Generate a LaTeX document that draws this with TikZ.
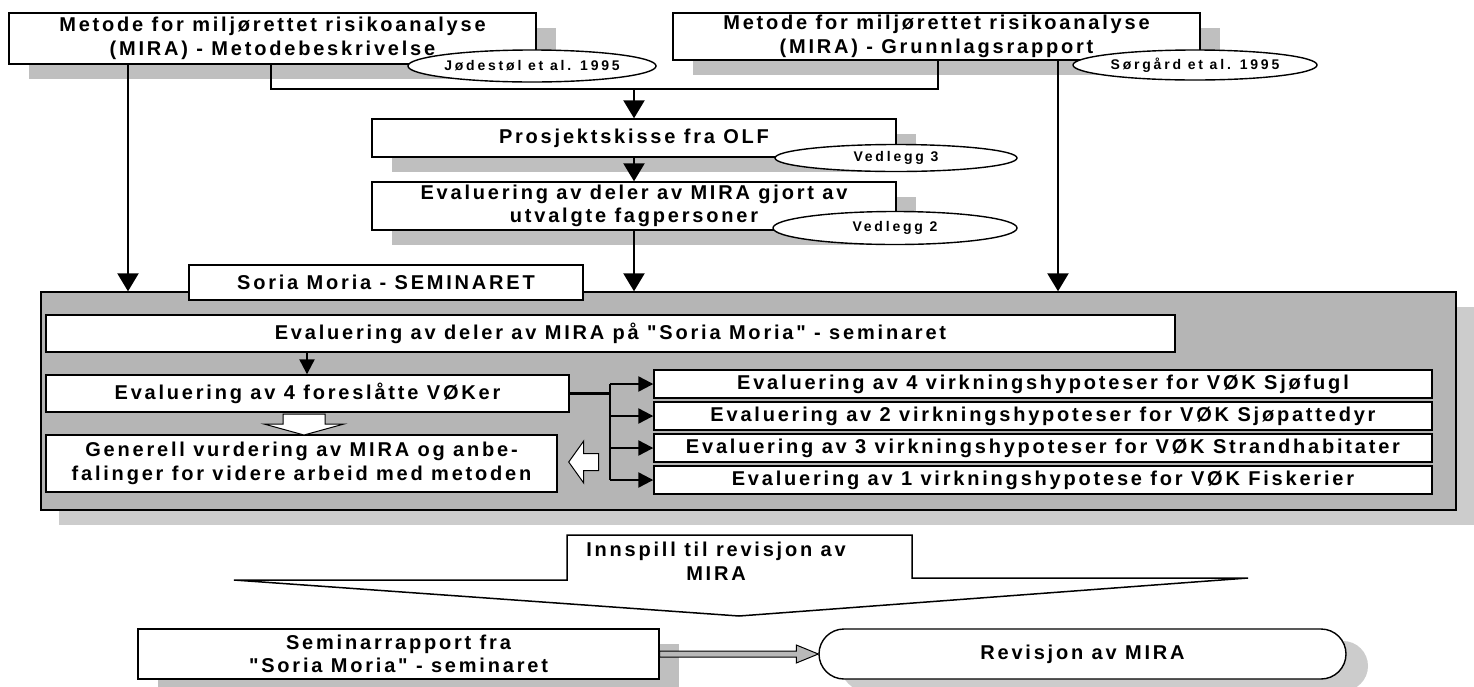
\documentclass[tikz,border=0pt]{standalone}
\usepackage{fontspec}
\setmainfont{Liberation Sans}
\newfontfamily\boxfont{Liberation Sans}[LetterSpace=14]
\newfontfamily\ovalfont{Liberation Sans}[LetterSpace=20]
\usetikzlibrary{arrows.meta,shapes.geometric,shadows,calc}

\begin{document}
\begin{tikzpicture}[x=1pt,y=-1pt,
  boxtext/.style={font=\boxfont\bfseries\fontsize{20}{23.5}\selectfont, align=center},
  plainbox/.style={boxtext, rectangle, draw, fill=white, line width=1.4pt, inner sep=0pt},
  castshadow/.style={general shadow={shadow xshift=20pt, shadow yshift=-15pt, fill=gray!50}},
  refoval/.style={ellipse, draw, fill=white, line width=1.4pt, inner sep=0pt,
    font=\ovalfont\bfseries\fontsize{14}{16}\selectfont},
  semframe/.style={rectangle, draw, line width=1.4pt, fill=gray!58,
    general shadow={shadow xshift=18pt, shadow yshift=-15pt, fill=gray!40}},
  link/.style={line width=2.3pt},
  bigarrow/.style={link, -{Triangle[length=18pt,width=21pt]}},
  smallarrow/.style={link, -{Triangle[length=15pt,width=15pt]}},
  hollow/.style={draw, fill=white, line width=1pt, line join=miter},
]
\useasboundingbox (0,0) rectangle (1474,686);

% ---- seminar frame and its inner boxes ----
\node[semframe, minimum width=1415pt, minimum height=218pt] (S) at (748.5,401) {};
\node[plainbox, minimum width=394pt, minimum height=35pt] (tab) at (386,282.5) {Soria Moria - SEMINARET};

\node[plainbox, minimum width=1129pt, minimum height=37pt] (deler) at (610.5,333.5)
  {Evaluering av deler av MIRA på "Soria Moria" - seminaret};
\node[plainbox, minimum width=523pt, minimum height=37pt] (vok) at (307.5,393.5)
  {Evaluering av 4 foreslåtte VØKer};
\node[plainbox, minimum width=511pt, minimum height=57pt] (gen) at (301.5,463.5)
  {Generell vurdering av MIRA og anbe-\\falinger for videre arbeid med metoden};

\node[plainbox, minimum width=778pt, minimum height=28pt] (r1) at (1043,384)
  {Evaluering av 4 virkningshypoteser for VØK Sjøfugl};
\node[plainbox, minimum width=778pt, minimum height=28pt] (r2) at (1043,416)
  {Evaluering av 2 virkningshypoteser for VØK Sjøpattedyr};
\node[plainbox, minimum width=778pt, minimum height=28pt] (r3) at (1043,448)
  {Evaluering av 3 virkningshypoteser for VØK Strandhabitater};
\node[plainbox, minimum width=778pt, minimum height=28pt] (r4) at (1043,480)
  {Evaluering av 1 virkningshypotese for VØK Fiskerier};

% ---- source documents ----
\node[plainbox, castshadow, minimum width=527pt, minimum height=51pt] (A) at (272.5,38.5)
  {Metode for miljørettet risikoanalyse\\(MIRA) - Metodebeskrivelse};
\node[plainbox, castshadow, minimum width=527pt, minimum height=47pt] (B) at (936.5,36.5)
  {Metode for miljørettet risikoanalyse\\(MIRA) - Grunnlagsrapport};
\node[refoval, minimum width=243pt, minimum height=32pt] (refA) at (532,66) {Jødestøl et al. 1995};
\node[refoval, minimum width=244pt, minimum height=30pt] (refB) at (1195,65) {Sørgård et al. 1995};

\node[plainbox, castshadow, minimum width=524pt, minimum height=38pt] (C) at (634,138)
  {Prosjektskisse fra OLF};
\node[plainbox, castshadow, minimum width=524pt, minimum height=48pt] (D) at (634,206)
  {Evaluering av deler av MIRA gjort av\\utvalgte fagpersoner};
\node[refoval, minimum width=242pt, minimum height=27pt] (att3) at (896,158) {Vedlegg 3};
\node[refoval, minimum width=244pt, minimum height=33pt] (att2) at (895,228) {Vedlegg 2};

% ---- connectors at the top ----
\coordinate (inL) at (128,0);
\coordinate (inR) at (1058,0);
\coordinate (jA) at (271,89);
\coordinate (jB) at (938,89);

\draw[bigarrow] (A.south -| inL) -- (S.north -| inL);
\draw[bigarrow] (B.south -| inR) -- (S.north -| inR);
\draw[link] (A.south -| jA) -- (jA) -- (jB) -- (B.south -| jB);
\draw[bigarrow] (jA -| C.north) -- (C.north);
\draw[bigarrow] (C.south) -- (D.north);
\draw[bigarrow] (D.south) -- (S.north -| D.south);

% ---- connectors inside the seminar ----
\coordinate (dv) at (307,0);
\draw[smallarrow] (deler.south -| dv) -- (vok.north -| dv);

\coordinate (br) at (610,0);
\draw[link] (vok.east) -- (vok.east -| br);
\draw[link] (r1.west -| br) -- (r4.west -| br);
\foreach \r in {r1,r2,r3,r4}
  \draw[smallarrow] (\r.west -| br) -- (\r.west);

% hollow block arrows into the general assessment
\coordinate (dn) at (304,413);
\draw[hollow] ($(dn)+(-21,1)$) -- ($(dn)+(21,1)$) -- ($(dn)+(21,11)$) -- ($(dn)+(40,11)$)
  -- ($(dn)+(0,22)$) -- ($(dn)+(-40,11)$) -- ($(dn)+(-21,11)$) -- cycle;
\coordinate (lt) at ($(gen.east)+(11,-1.5)$);
\draw[hollow] (lt) -- ($(lt)+(15,-21)$) -- ($(lt)+(15,-8.5)$) -- ($(lt)+(30,-8.5)$)
  -- ($(lt)+(30,8.5)$) -- ($(lt)+(15,8.5)$) -- ($(lt)+(15,21)$) -- cycle;

% ---- input to the revision ----
\draw[line width=1.5pt, line join=miter, fill=white]
  (567,535) -- (912,535) -- (912,578) -- (1248,578) -- (739,616) -- (234,580) -- (567,580) -- cycle;
\node[boxtext] (inn) at (716,561) {Innspill til revisjon av\\MIRA};

\node[plainbox, castshadow, minimum width=521pt, minimum height=50pt] (sr) at (398.5,654)
  {Seminarrapport fra\\"Soria Moria" - seminaret};
\node[plainbox, rounded corners=25pt, minimum width=527pt, minimum height=50pt,
  general shadow={shadow xshift=22pt, shadow yshift=-12pt, fill=gray!40}] (rv) at (1082.5,654)
  {Revisjon av MIRA};

\draw[line width=1pt, fill=gray!55, line join=miter]
  ($(sr.east)+(0,-3)$) -- ($(rv.west)+(-22,-3)$) -- ($(rv.west)+(-22,-9)$) -- (rv.west)
  -- ($(rv.west)+(-22,9)$) -- ($(rv.west)+(-22,3)$) -- ($(sr.east)+(0,3)$) -- cycle;
\end{tikzpicture}
\end{document}
